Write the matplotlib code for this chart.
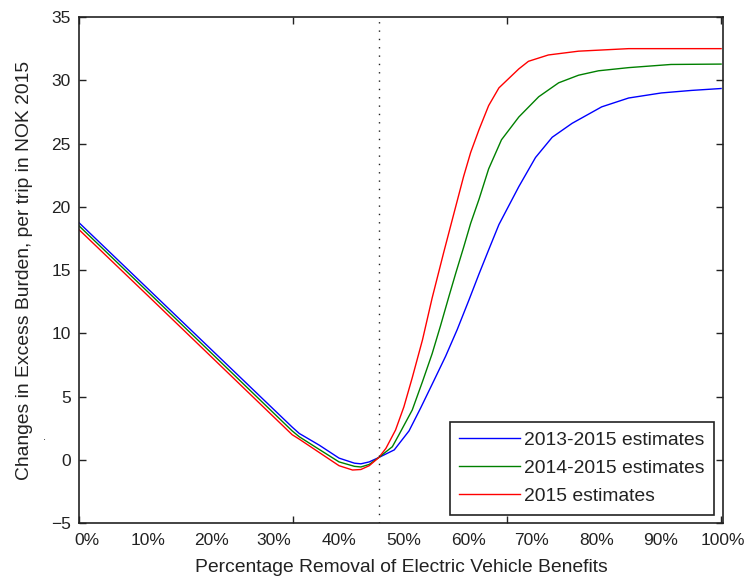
import numpy as np
import matplotlib
matplotlib.use('Agg')
import matplotlib.pyplot as plt

plt.rcParams['font.family'] = ['Liberation Sans', 'DejaVu Sans']

# x in percent of axis width (0..100), y in NOK
x_blue = [0, 11.0, 33.2, 34.3, 37.4, 40.5, 42.9, 43.9, 45.2, 46.7, 49.1, 51.4, 53.2, 55.3,
          57.1, 58.9, 60.7, 62.3, 63.8, 65.4, 68.5, 71.1, 73.7, 76.8, 81.4, 85.6, 90.7, 95.4, 100]
y_blue = [18.75, 13.4, 2.6, 2.1, 1.18, 0.15, -0.25, -0.3, -0.15, 0.2, 0.8, 2.3, 4.1, 6.3,
          8.2, 10.3, 12.6, 14.7, 16.6, 18.6, 21.6, 23.9, 25.5, 26.6, 27.9, 28.6, 29.0, 29.2, 29.35]

x_green = [0, 11.0, 33.2, 34.3, 37.4, 40.5, 42.9, 43.9, 45.2, 46.7, 48.8, 49.8, 51.9, 53.5, 55.0,
           56.3, 57.6, 58.7, 59.9, 61.0, 62.3, 63.8, 65.8, 68.5, 71.6, 74.7, 77.8, 80.9, 85.6, 92.2, 100]
y_green = [18.5, 13.15, 2.3, 1.84, 0.84, -0.15, -0.5, -0.55, -0.35, 0.2, 1.05, 1.97, 3.95, 6.2, 8.4,
           10.6, 12.9, 14.8, 16.8, 18.7, 20.6, 23.0, 25.3, 27.1, 28.7, 29.8, 30.4, 30.75, 31.0, 31.25, 31.28]

x_red = [0, 11.0, 33.2, 34.3, 37.4, 40.5, 42.6, 43.9, 45.2, 46.7, 47.8, 49.3, 50.6, 51.9, 53.5,
         55.0, 56.8, 58.4, 59.9, 61.0, 62.3, 63.8, 65.4, 68.5, 70.0, 73.1, 77.8, 85.6, 100]
y_red = [18.2, 12.85, 2.0, 1.65, 0.6, -0.45, -0.79, -0.75, -0.45, 0.2, 0.92, 2.37, 4.2, 6.5, 9.5,
         12.8, 16.4, 19.5, 22.4, 24.3, 26.1, 28.0, 29.4, 30.9, 31.5, 32.0, 32.3, 32.5, 32.5]

labels = ['2013-2015 estimates', '2014-2015 estimates', '2015 estimates']
vline_x = 46.7

xtick_labels = ['0%', '10%', '20%', '30%', '40%', '50%', '60%', '70%', '80%', '90%', '100%']
xtick_label_pos = [1.3, 10.7, 20.7, 30.4, 40.5, 50.6, 60.7, 70.5, 80.6, 90.5, 100.3]
xtick_marks = [0, 100 / 3, 200 / 3, 100]
yticks = [-5, 0, 5, 10, 15, 20, 25, 30, 35]

fig = plt.figure(figsize=(7.51, 5.81), dpi=100)
ax = fig.add_axes([79 / 751, 1 - 523.3 / 581, (723 - 79) / 751, (523.3 - 17) / 581])

ax.plot(x_blue, y_blue, color=(0, 0, 1), lw=1.0, label=labels[0])
ax.plot(x_green, y_green, color=(0, 0.5, 0), lw=1.0, label=labels[1])
ax.plot(x_red, y_red, color=(1, 0, 0), lw=1.0, label=labels[2])
ax.axvline(vline_x, color='#222222', lw=1.0, ls=(0, (1, 5)))

ax.set_xlim(0, 100)
ax.set_ylim(-5, 35)
ax.set_xticks(xtick_marks)
ax.set_xticklabels([''] * len(xtick_marks))
ax.set_xticks(xtick_label_pos, minor=True)
ax.set_xticklabels(xtick_labels, minor=True)
ax.set_yticks(yticks)
ax.tick_params(which='major', direction='in', length=5, width=1, top=True, right=True,
               labelsize=12.5, colors='#222222')
ax.tick_params(which='minor', length=0, labelsize=12.5, pad=7, labelcolor='#222222')
ax.tick_params(axis='y', pad=6)
for s in ax.spines.values():
    s.set_color('#222222')
    s.set_linewidth(1.2)

ax.set_xlabel('Percentage Removal of Electric Vehicle Benefits', fontsize=13.9, color='#222222', labelpad=8)
ax.set_ylabel('Changes in Excess Burden, per trip in NOK 2015', fontsize=13.9, color='#222222', labelpad=13)

leg = ax.legend(loc='lower right', fontsize=13.9, handlelength=3.15, handletextpad=0.2,
                borderaxespad=0.45, borderpad=0.5, labelspacing=0.55,
                fancybox=False, framealpha=1, edgecolor='#222222')
leg.get_frame().set_linewidth(1.2)
for t in leg.get_texts():
    t.set_color('#222222')

fig.text(45 / 751, 1 - 440 / 581, '.', ha='center', va='baseline', fontsize=8, color='#222222')

fig.savefig('out.png', dpi=100)
